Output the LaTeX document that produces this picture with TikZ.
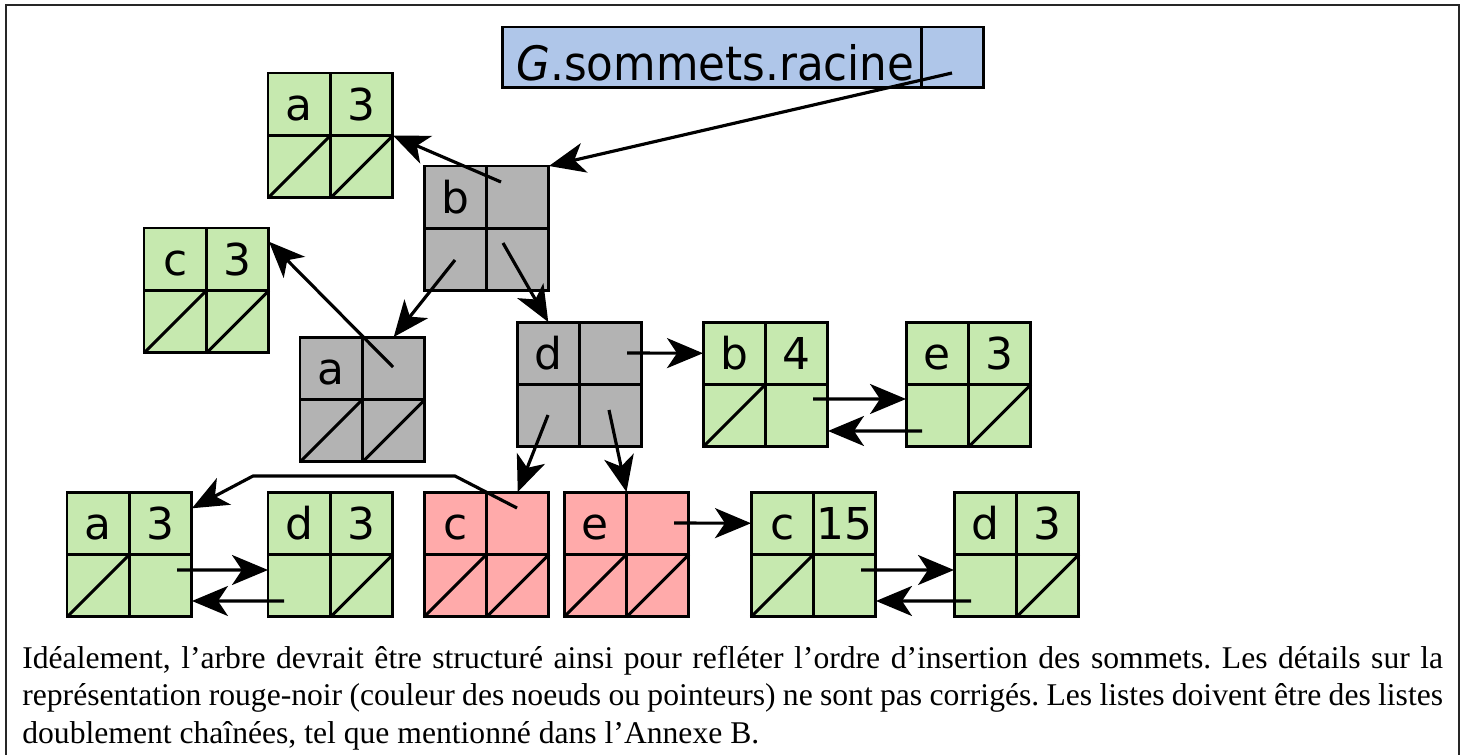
\documentclass[tikz,border=0pt]{standalone}
\usepackage{fontspec}
\setmainfont{Liberation Serif}
\newfontfamily\labfont{DejaVu Sans}
\usetikzlibrary{arrows.meta,calc}

\definecolor{listgreen}{RGB}{198,233,175}
\definecolor{nodegrey}{RGB}{179,179,179}
\definecolor{nodered}{RGB}{255,170,170}
\definecolor{rootblue}{RGB}{175,198,233}

\tikzset{
  cellbox/.style={draw, line width=1.7pt, minimum width=2.5cm, minimum height=2.5cm,
    inner sep=0pt, outer sep=0pt},
  gridline/.style={line width=1.7pt},
  lab/.style={font=\labfont\fontsize{25}{29}\selectfont, inner sep=0pt, anchor=base},
  ptr/.style={line width=1.8pt, line join=round,
    -{Stealth[length=0.72cm,width=0.6cm,inset=0.2cm]}},
  framepen/.style={line width=1.1pt, black!85},
}

% a 2x2 record: name, left, top, fill, key, value
\newcommand\listbox[6]{%
  \node[cellbox, fill=#4, anchor=north west] (#1) at (#2,#3) {};
  \draw[gridline] (#1.north) -- (#1.south) (#1.west) -- (#1.east);
  \node[lab] (#1-l) at ([shift={(-31.25,-14.5)}]#1.center) {#5};
  \node[lab] (#1-r) at ([shift={(31.25,-14.5)}]#1.center) {#6};
}
% null pointers in the lower cells
\newcommand\nullleft[1]{\draw[gridline] (#1.south west) -- (#1.center);}
\newcommand\nullright[1]{\draw[gridline] (#1.south) -- (#1.east);}

\begin{document}
\frenchspacing
\begin{tikzpicture}[x=0.02cm, y=-0.02cm]
\useasboundingbox (0,0) rectangle (1466,754);

% outer frame
\draw[framepen] (6,770) -- (6,5) -- (1459,5) -- (1459,770);

% root pointer
\node[draw, line width=1.7pt, fill=rootblue, minimum width=9.64cm, minimum height=1.22cm,
  inner sep=0pt, outer sep=0pt, anchor=north west] (root) at (502,27) {};
\draw[gridline] ($(root.north east)+(-62,0)$) -- ($(root.south east)+(-62,0)$);
\node[anchor=base west, inner sep=0pt, font=\labfont\fontsize{27}{31}\selectfont]
  (rootlab) at (516,80) {\scalebox{0.92}[1]{\textit{G}.sommets.racine}};

% tree nodes
\listbox{gAt}{268}{73}{listgreen}{a}{3}   \nullleft{gAt} \nullright{gAt}
\listbox{grB}{424}{166}{nodegrey}{b}{}
\listbox{gC}{144}{228}{listgreen}{c}{3}   \nullleft{gC} \nullright{gC}
\listbox{grA}{300}{337}{nodegrey}{a}{}    \nullleft{grA} \nullright{grA}
\listbox{grD}{517}{322}{nodegrey}{d}{}
\listbox{gB}{703}{322}{listgreen}{b}{4}   \nullleft{gB}
\listbox{gE}{906}{322}{listgreen}{e}{3}   \nullright{gE}
\listbox{gA}{67}{492}{listgreen}{a}{3}    \nullleft{gA}
\listbox{gD}{268}{492}{listgreen}{d}{3}   \nullright{gD}
\listbox{rC}{424}{492}{nodered}{c}{}      \nullleft{rC} \nullright{rC}
\listbox{rE}{564}{492}{nodered}{e}{}      \nullleft{rE} \nullright{rE}
\listbox{gCf}{751}{492}{listgreen}{c}{15} \nullleft{gCf}
\listbox{gDt}{954}{492}{listgreen}{d}{3}  \nullright{gDt}

% pointer origins
\coordinate (rootp) at (952,73);
\coordinate (pB1) at (501,182);
\coordinate (pB2) at (455,260);
\coordinate (pB3) at (503,243);
\coordinate (pA1) at (393,367);
\coordinate (pD1) at (627,353);
\coordinate (pD2) at (548,415);
\coordinate (pD3) at (609,410);
\coordinate (pC1) at (517,508);
\coordinate (k1) at (455,476);
\coordinate (k2) at (253,476);
\coordinate (pE1) at (674,523);
\coordinate (pA2) at (177,570);
\coordinate (pD4) at (284,601);
\coordinate (pB4) at (813,399);
\coordinate (pE2) at (922,431);
\coordinate (pC2) at (861,570);
\coordinate (pD5) at (971,601);

% tree pointers
\draw[ptr] (rootp) -- (grB.north east);
\draw[ptr] (pB1) -- (gAt.east);
\draw[ptr] (pB2) -- ($(grA.north)!0.5!(grA.north east)$);
\draw[ptr] (pB3) -- ($(grD.north west)!0.5!(grD.north)$);
\draw[ptr] (pA1) -- ($(gC.north east)!0.11!(gC.south east)$);
\draw[ptr] (pD1) -- ($(gB.north west)!0.25!(gB.south west)$);
\draw[ptr] (pD2) -- ($(rC.north)!0.5!(rC.north east)$);
\draw[ptr] (pD3) -- (rE.north);
\draw[ptr] (pC1) -- (k1) -- (k2) -- ($(gA.north east)!0.13!(gA.south east)$);
\draw[ptr] (pE1) -- ($(gCf.north west)!0.25!(gCf.south west)$);

% list links
\draw[ptr] (pA2) -- ($(gD.north west)!0.624!(gD.south west)$);
\draw[ptr] (pD4) -- ($(gA.north east)!0.872!(gA.south east)$);
\draw[ptr] (pB4) -- ($(gE.north west)!0.616!(gE.south west)$);
\draw[ptr] (pE2) -- ($(gB.north east)!0.872!(gB.south east)$);
\draw[ptr] (pC2) -- ($(gDt.north west)!0.624!(gDt.south west)$);
\draw[ptr] (pD5) -- ($(gCf.north east)!0.872!(gCf.south east)$);

% caption
\node[anchor=north west, inner sep=0pt, text width=28.42cm, align=justify,
  font=\fontsize{18}{21.2}\selectfont] (caption) at (22,646)
  {Idéalement, l’arbre devrait être structuré ainsi pour refléter l’ordre d’insertion des sommets. Les détails sur la\linebreak
   représentation rouge-noir (couleur des noeuds ou pointeurs) ne sont pas corrigés. Les listes doivent être des listes\linebreak
   doublement chaînées, tel que mentionné dans l’Annexe B.};
\end{tikzpicture}
\end{document}
